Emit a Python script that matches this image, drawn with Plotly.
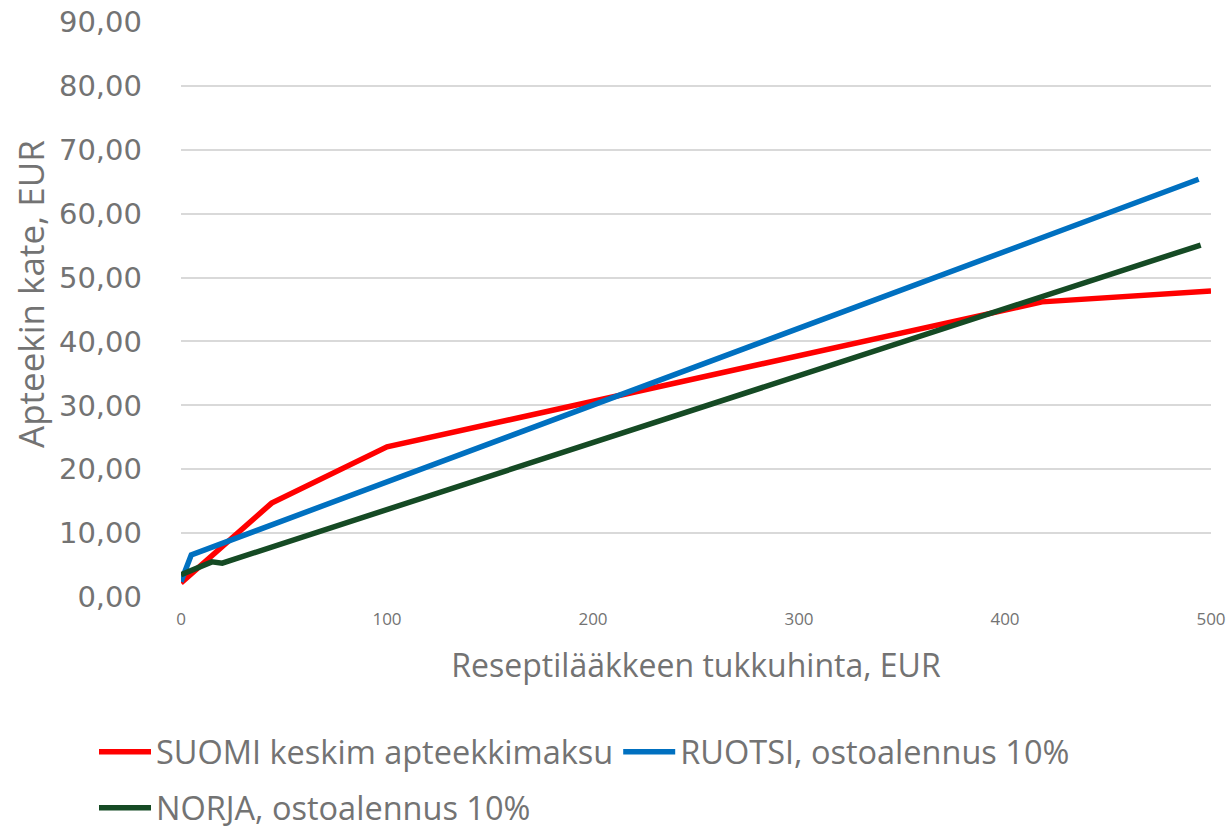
import plotly.graph_objects as go

# Data
suomi_x = [0, 44, 100, 418, 500]
suomi_y = [2.2, 14.7, 23.5, 46.2, 47.9]

ruotsi_x = [0, 5, 494]
ruotsi_y = [2.4, 6.6, 65.4]

norja_x = [0, 15, 20, 495]
norja_y = [3.5, 5.5, 5.3, 55.1]

y_ticks = [0, 10, 20, 30, 40, 50, 60, 70, 80, 90]
y_labels = ["0,00", "10,00", "20,00", "30,00", "40,00", "50,00", "60,00", "70,00", "80,00", "90,00"]
x_ticks = [0, 100, 200, 300, 400, 500]

W, H = 1227, 829

fig = go.Figure()
fig.add_trace(go.Scatter(x=suomi_x, y=suomi_y, mode="lines", name="SUOMI keskim apteekkimaksu",
                         line=dict(color="#FF0000", width=5.5), legend="legend"))
fig.add_trace(go.Scatter(x=ruotsi_x, y=ruotsi_y, mode="lines", name="RUOTSI, ostoalennus 10%",
                         line=dict(color="#0070C0", width=5.5), legend="legend"))
fig.add_trace(go.Scatter(x=norja_x, y=norja_y, mode="lines", name="NORJA, ostoalennus 10%",
                         line=dict(color="#154A24", width=5.5), legend="legend2"))

font_main = "Open Sans, sans-serif"
grey = "#737373"

leg_common = dict(orientation="h", xref="container", yref="container",
                  xanchor="left", yanchor="middle",
                  font=dict(size=32.5, color=grey, family=font_main),
                  itemwidth=52, bgcolor="rgba(0,0,0,0)")

fig.update_layout(
    width=W, height=H,
    margin=dict(l=181, r=16, t=22, b=232),
    plot_bgcolor="white", paper_bgcolor="white",
    font=dict(family=font_main, color=grey),
    showlegend=True,
    legend=dict(x=94 / W, y=1 - 752 / H, **leg_common),
    legend2=dict(x=94 / W, y=1 - 808 / H, **leg_common),
    xaxis=dict(range=[0, 500], tickvals=x_ticks, showgrid=False, zeroline=False,
               showline=False, tickfont=dict(size=17, color=grey),
               ticklabelstandoff=10,
               title=dict(text="Reseptilääkkeen tukkuhinta, EUR", font=dict(size=32, color=grey), standoff=25),
               automargin=False, fixedrange=True),
    yaxis=dict(range=[0, 90.01], tickvals=y_ticks, ticktext=y_labels, showgrid=True,
               gridcolor="#D9D9D9", gridwidth=2, zeroline=False, showline=False,
               tickfont=dict(size=29, color=grey, family="DejaVu Sans, sans-serif"),
               ticklabelstandoff=38,
               automargin=False, fixedrange=True),
    annotations=[dict(text="Apteekin kate, EUR", textangle=-90, showarrow=False,
                      xref="paper", yref="paper",
                      x=-(181 - 30) / 1030, y=(597 - 294) / 575,
                      xanchor="center", yanchor="middle",
                      font=dict(size=35, color=grey, family=font_main))],
)

fig.write_html("out.html", config={"displayModeBar": False},
               post_script="document.body.style.margin='0';document.body.style.overflow='hidden';")
